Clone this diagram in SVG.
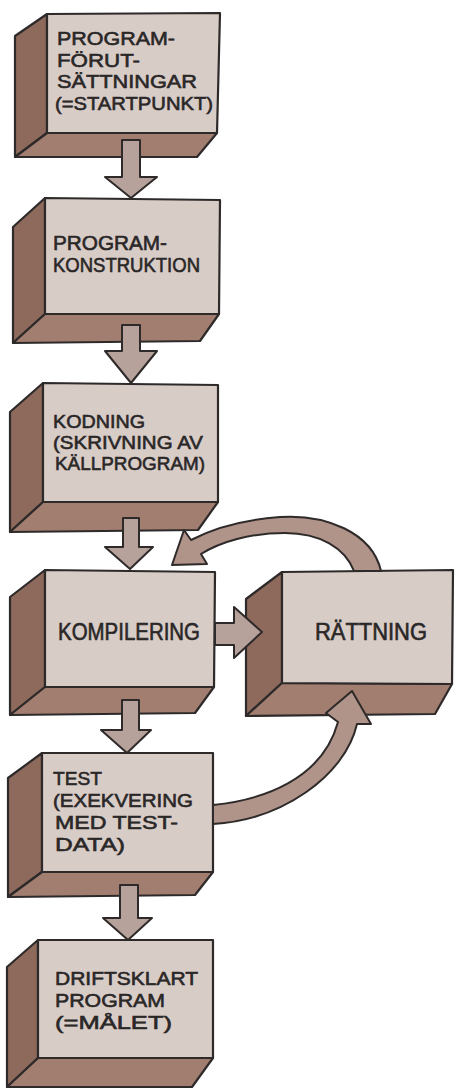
<svg xmlns="http://www.w3.org/2000/svg" width="456" height="1089" viewBox="0 0 456 1089">
<style>
.main{fill:#d8ccc7;stroke:#2e2a2a;stroke-width:2.2;stroke-linejoin:round}
.side{fill:#8e6a5d;stroke:#2e2a2a;stroke-width:2.2;stroke-linejoin:round}
.bot{fill:#a27e70;stroke:#2e2a2a;stroke-width:2.2;stroke-linejoin:round}
.arr{fill:#b7a29b;stroke:#2e2a2a;stroke-width:2;stroke-linejoin:round}
.carr{fill:#b09389;stroke:#2e2a2a;stroke-width:2;stroke-linejoin:round}
text{font-family:"Liberation Sans",Arial,sans-serif;fill:#2a2727;stroke:#2a2727;stroke-width:0.6}
</style>
<rect width="456" height="1089" fill="#ffffff"/>
<g id="node-start">
<polygon class="side" points="47,14 15,36 15,157 47,133"/>
<polygon class="bot" points="47,133 217,133 197,157 15,157"/>
<polygon class="main" points="47,14 220,13 217,133 47,133"/>
<text font-size="19" x="57" y="45" textLength="118" lengthAdjust="spacingAndGlyphs">PROGRAM-</text>
<text font-size="19" x="57" y="67" textLength="83" lengthAdjust="spacingAndGlyphs">FÖRUT-</text>
<text font-size="19" x="57" y="88" textLength="140" lengthAdjust="spacingAndGlyphs">SÄTTNINGAR</text>
<text font-size="19" x="55" y="110" textLength="158" lengthAdjust="spacingAndGlyphs">(=STARTPUNKT)</text>
</g>
<g id="node-konstruktion">
<polygon class="side" points="45,198 13,227 13,343 45,314"/>
<polygon class="bot" points="45,314 219,314 200,341 13,343"/>
<polygon class="main" points="45,198 220,200 219,314 45,314"/>
<text font-size="20" x="53" y="250" textLength="114" lengthAdjust="spacingAndGlyphs">PROGRAM-</text>
<text font-size="20" x="53" y="272" textLength="147" lengthAdjust="spacingAndGlyphs">KONSTRUKTION</text>
</g>
<g id="node-kodning">
<polygon class="side" points="43,383 10,412 10,532 43,502"/>
<polygon class="bot" points="43,502 218,502 198,530 10,532"/>
<polygon class="main" points="43,383 218,385 218,502 43,502"/>
<text font-size="19" x="53" y="428" textLength="92" lengthAdjust="spacingAndGlyphs">KODNING</text>
<text font-size="19" x="53" y="449" textLength="150" lengthAdjust="spacingAndGlyphs">(SKRIVNING AV</text>
<text font-size="19" x="55" y="470" textLength="150" lengthAdjust="spacingAndGlyphs">KÄLLPROGRAM)</text>
</g>
<g id="node-kompilering">
<polygon class="side" points="45,570 10,597 10,715 45,687"/>
<polygon class="bot" points="45,687 214,687 195,713 10,715"/>
<polygon class="main" points="45,570 215,572 214,687 45,687"/>
<text font-size="23" x="58" y="640" textLength="142" lengthAdjust="spacingAndGlyphs">KOMPILERING</text>
</g>
<g id="node-rattning">
<polygon class="side" points="282,572 246,599 246,716 282,683"/>
<polygon class="bot" points="282,683 452,684 435,714 246,716"/>
<polygon class="main" points="282,572 453,570 452,684 282,683"/>
<text font-size="23" x="315" y="640" textLength="112" lengthAdjust="spacingAndGlyphs">RÄTTNING</text>
</g>
<g id="node-test">
<polygon class="side" points="42,753 8,778 8,897 42,872"/>
<polygon class="bot" points="42,872 213,872 195,895 8,897"/>
<polygon class="main" points="42,753 213,753 213,872 42,872"/>
<text font-size="19" x="53" y="785" textLength="49" lengthAdjust="spacingAndGlyphs">TEST</text>
<text font-size="19" x="53" y="807" textLength="140" lengthAdjust="spacingAndGlyphs">(EXEKVERING</text>
<text font-size="19" x="55" y="829" textLength="123" lengthAdjust="spacingAndGlyphs">MED TEST-</text>
<text font-size="19" x="55" y="851" textLength="70" lengthAdjust="spacingAndGlyphs">DATA)</text>
</g>
<g id="node-driftsklart">
<polygon class="side" points="38,940 7,967 7,1087 38,1058"/>
<polygon class="bot" points="38,1058 213,1058 192,1087 7,1087"/>
<polygon class="main" points="38,940 213,940 213,1058 38,1058"/>
<text font-size="19" x="55" y="985" textLength="143" lengthAdjust="spacingAndGlyphs">DRIFTSKLART</text>
<text font-size="19" x="55" y="1007" textLength="110" lengthAdjust="spacingAndGlyphs">PROGRAM</text>
<text font-size="19" x="55" y="1029" textLength="117" lengthAdjust="spacingAndGlyphs">(=MÅLET)</text>
</g>
<g id="connectors">
<polygon class="arr" points="122,140 140,140 140,177 157,177 131,198 105,177 122,177"/>
<polygon class="arr" points="122,325 140,325 140,351 157,351 131,383 105,351 122,351"/>
<polygon class="arr" points="123,518 139,518 139,547 153,547 130,569 105,547 123,547"/>
<polygon class="arr" points="122,700 139,700 139,730 151,730 127,753 101,730 122,730"/>
<polygon class="arr" points="120,885 138,885 138,918 152,918 128,940 103,918 120,918"/>
<polygon class="arr" points="215,623 234,623 234,607 262,632 234,658 234,645 215,645"/>
<path class="carr" d="M 381 571 C 372 532 325 514 280 517 C 240 520 210 530 191 540 L 184 530 L 172 565 L 207 564 L 201 554 C 220 542 250 533 285 533 C 320 533 345 548 354 571 Z"/>
<path class="carr" d="M 213 805 C 262 800 322 780 338 722 L 326 713 L 352 691 L 371 724 L 357 724 C 345 776 282 820 213 824 Z"/>
</g>
</svg>
